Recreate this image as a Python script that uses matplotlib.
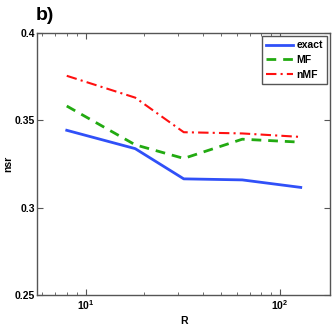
import numpy as np
import matplotlib.pyplot as plt

# values
R = [8, 18, 32, 64, 128]
exact = [0.3443, 0.3338, 0.3165, 0.3159, 0.3116]
mf = [0.3582, 0.3360, 0.3282, 0.3392, 0.3375]
nmf = [0.3755, 0.3630, 0.3432, 0.3425, 0.3405]

plt.rcParams["font.family"] = "Liberation Sans"
plt.rcParams["font.weight"] = "bold"

fig = plt.figure(figsize=(3.33, 3.32), dpi=100)
ax = fig.add_axes([0.1126, 0.1114, 0.8784, 0.7892])

ax.plot(R, exact, color="#3050f8", lw=2.0, label="exact")
ax.plot(R, mf, color="#22aa11", lw=2.0, ls=(0, (3.5, 2.5)), label="MF")
ax.plot(R, nmf, color="#ff1010", lw=1.5, ls=(0, (5, 2, 1, 2)), label="nMF")

ax.set_xscale("log")
ax.set_xlim(2 ** 2.5, 2 ** 7.5)
ax.set_ylim(0.25, 0.4)
ax.set_yticks([0.25, 0.3, 0.35, 0.4])
ax.set_yticklabels(["0.25", "0.3", "0.35", "0.4"])
ax.tick_params(which="both", direction="in", top=True, right=True,
               labelsize=7.5, color="#555555", pad=2)
ax.tick_params(which="major", length=4)
ax.tick_params(which="minor", length=2)
for s in ax.spines.values():
    s.set_color("#555555")
    s.set_linewidth(1.0)

ax.set_xlabel("R", fontsize=7.5, fontweight="bold", labelpad=3)
ax.set_ylabel("nsr", fontsize=7.5, fontweight="bold", labelpad=1)

leg = ax.legend(loc="upper right", fontsize=7.5, handlelength=2.6,
                fancybox=False, framealpha=1, borderpad=0.4,
                labelspacing=0.45, handletextpad=0.3, borderaxespad=0.3)
leg.get_frame().set_edgecolor("#555555")

fig.text(0.108, 0.94, "b)", fontsize=14, fontweight="bold")

fig.savefig("out.png", dpi=100)
